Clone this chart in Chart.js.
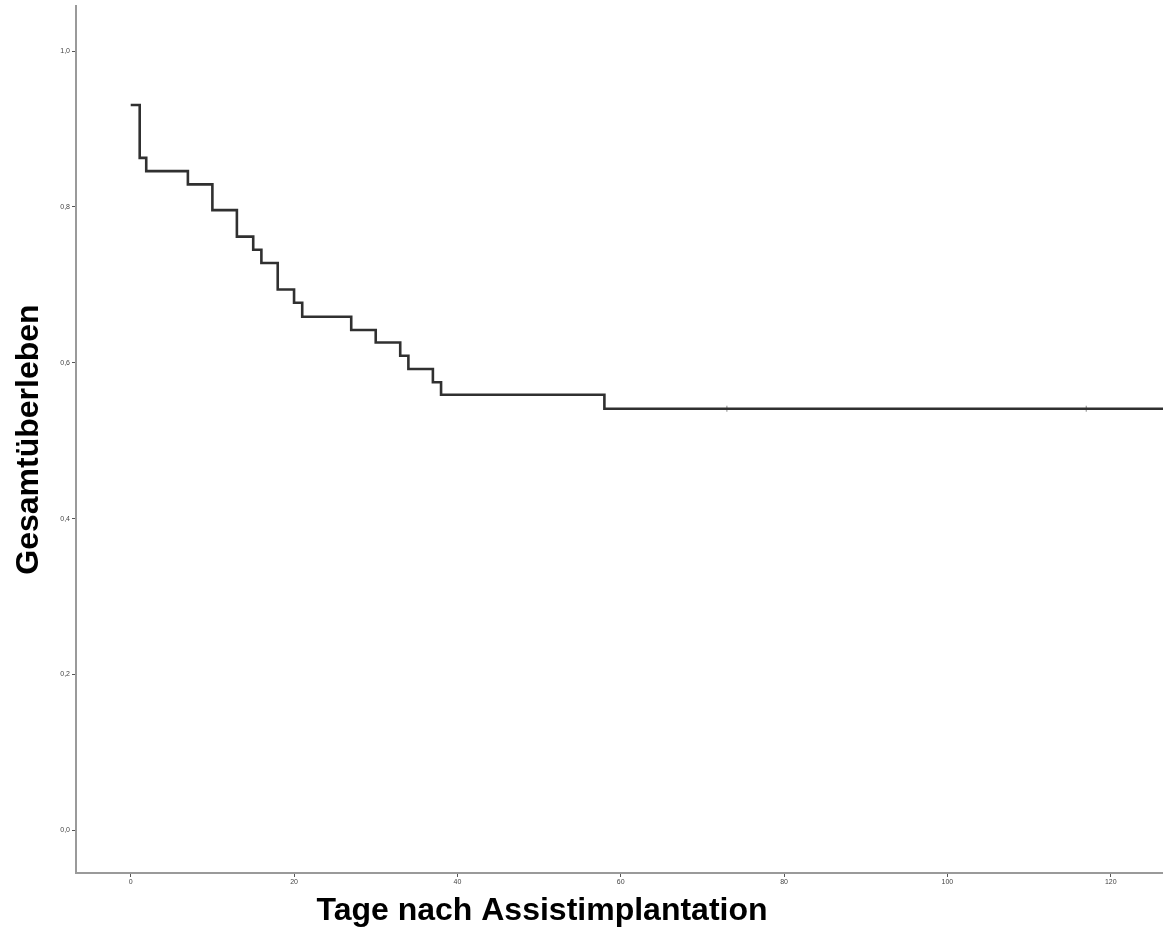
<!DOCTYPE html>
<html>
<head>
<meta charset="utf-8">
<script src="https://cdn.jsdelivr.net/npm/chart.js@4"></script>
<style>
  body { margin: 0; background: #fff; overflow: hidden; }
  #wrap { width: 1163px; height: 929px; }
  canvas { display: block; }
</style>
</head>
<body>
<div id="wrap"><canvas id="km" width="1163" height="929"></canvas></div>
<script>
// Kaplan-Meier steps
const days     = [0, 1.1, 1.9, 7, 10, 13, 15, 16, 18, 20, 21, 27, 30, 33, 34, 37, 38, 58, 127];
const survival = [0.931, 0.863, 0.846, 0.829, 0.796, 0.762, 0.745, 0.728, 0.694, 0.677, 0.659, 0.642, 0.626, 0.609, 0.592, 0.575, 0.559, 0.541, 0.541];
// censored cases (small ticks on the line)
const censorDays = [73, 117];
const censorSurv = [0.541, 0.541];

const xTicks = [0, 20, 40, 60, 80, 100, 120];
const yTicks = [0, 0.2, 0.4, 0.6, 0.8, 1.0];

const xTitle = 'Tage nach Assistimplantation';
const yTitle = 'Gesamtüberleben';

const axisColor = '#9a9a9a';

// x title sits left of the plot centre in the original, so draw it by hand
const xTitlePlugin = {
  id: 'xTitle',
  afterDraw(chart) {
    const ctx = chart.ctx;
    ctx.save();
    ctx.font = 'bold 32px "Liberation Sans", Arial, sans-serif';
    ctx.fillStyle = '#000';
    ctx.textAlign = 'center';
    ctx.textBaseline = 'alphabetic';
    ctx.fillText(xTitle, chart.chartArea.left + 466, 920);
    ctx.restore();
  }
};

new Chart(document.getElementById('km'), {
  type: 'line',
  data: {
    datasets: [{
      data: days.map((d, i) => ({x: d, y: survival[i]})),
      borderColor: '#303030',
      borderWidth: 2.6,
      stepped: true,
      pointRadius: 0,
      pointHoverRadius: 0,
      fill: false
    }, {
      type: 'scatter',
      data: censorDays.map((d, i) => ({x: d, y: censorSurv[i]})),
      pointStyle: 'line',
      rotation: 90,
      radius: 3,
      hoverRadius: 3,
      borderColor: '#8a8a8a',
      borderWidth: 1,
      backgroundColor: '#8a8a8a'
    }]
  },
  options: {
    responsive: false,
    animation: false,
    layout: { autoPadding: false, padding: { top: 6, right: 0, left: 0, bottom: 0 } },
    plugins: { legend: { display: false }, tooltip: { enabled: false } },
    scales: {
      x: {
        type: 'linear',
        min: -6.7,
        max: 126.4,
        afterBuildTicks: s => { s.ticks = xTicks.map(v => ({value: v})); },
        afterFit: s => { s.height = 56; s.paddingLeft = 0; s.paddingRight = 0; },
        border: { color: axisColor, width: 2 },
        grid: { drawOnChartArea: false, color: '#555', tickLength: 4, tickWidth: 1 },
        ticks: {
          padding: 1,
          color: '#444',
          maxRotation: 0,
          font: { family: 'Liberation Sans', size: 7 },
          callback: v => String(v)
        }
      },
      y: {
        type: 'linear',
        min: -0.055,
        max: 1.058,
        afterBuildTicks: s => { s.ticks = yTicks.map(v => ({value: v})); },
        afterFit: s => { s.width = 76; s.paddingTop = 0; s.paddingBottom = 0; },
        border: { color: axisColor, width: 2 },
        grid: { drawOnChartArea: false, color: '#555', tickLength: 4, tickWidth: 1 },
        ticks: {
          padding: 2,
          color: '#444',
          font: { family: 'Liberation Sans', size: 7 },
          callback: v => v.toFixed(1).replace('.', ',')
        },
        title: {
          display: true,
          text: yTitle,
          color: '#000',
          padding: { top: 10, bottom: 0 },
          font: { family: 'Liberation Sans', size: 32, weight: 'bold', lineHeight: 1.2 }
        }
      }
    }
  },
  plugins: [xTitlePlugin]
});
</script>
</body>
</html>
